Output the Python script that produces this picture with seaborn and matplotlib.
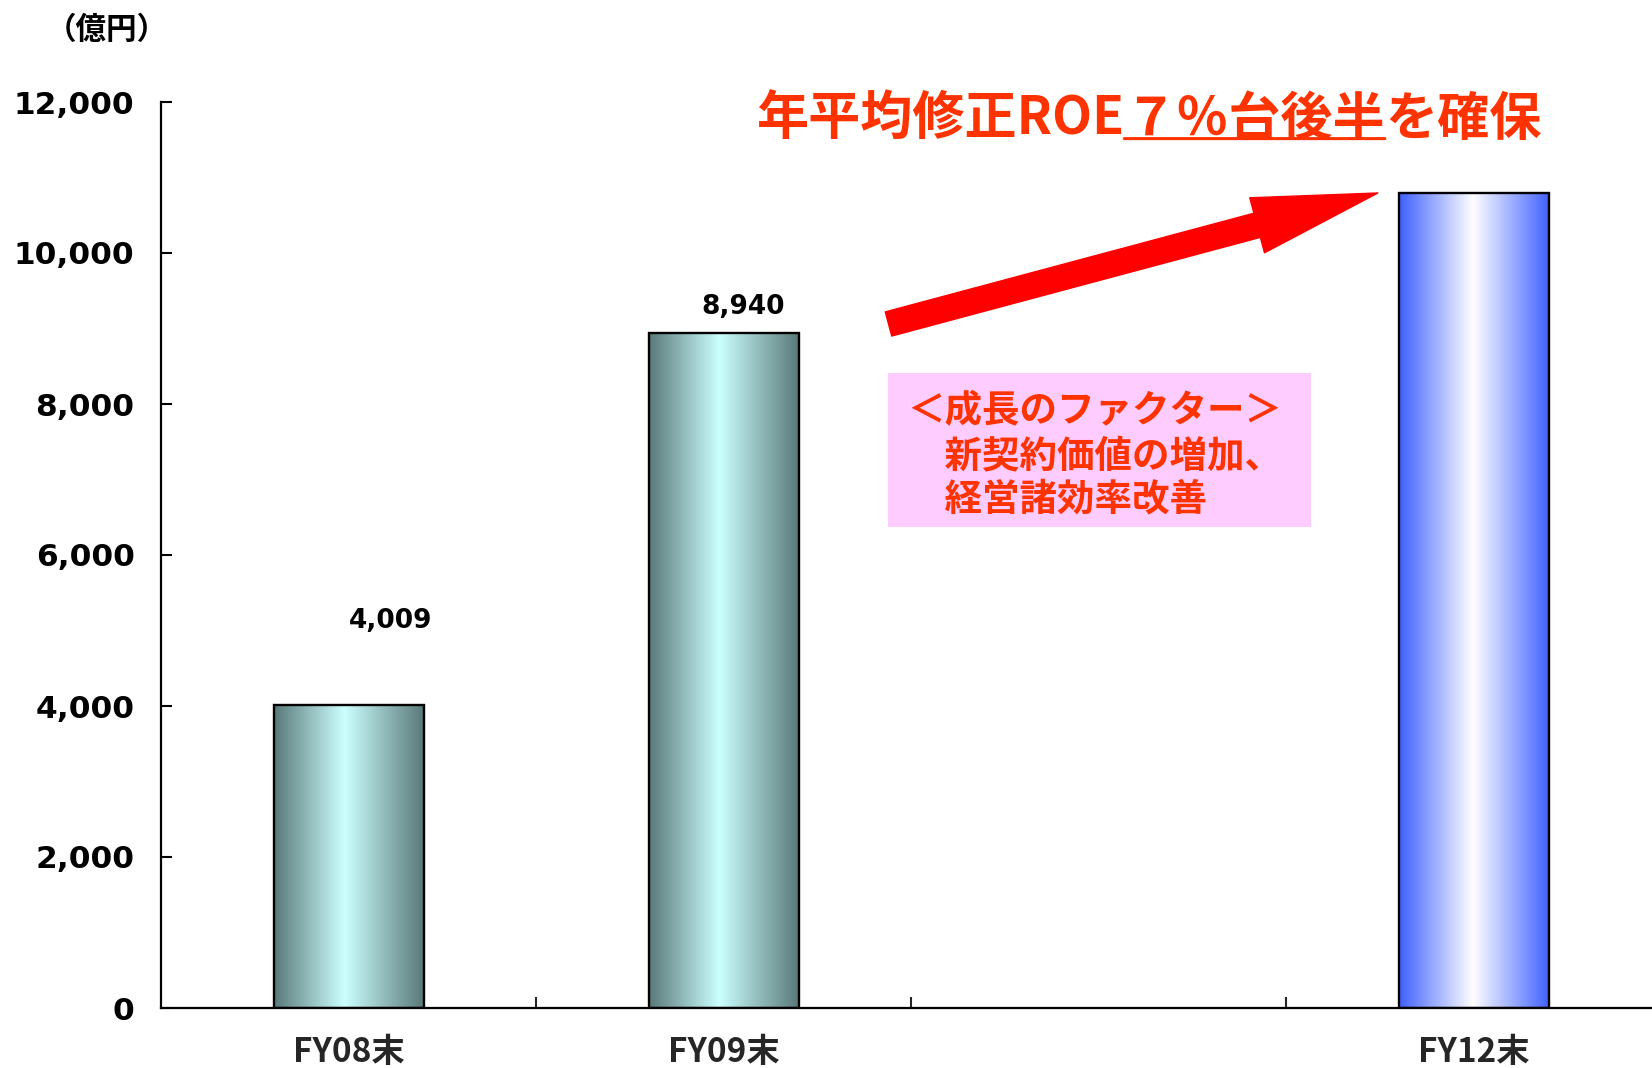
import numpy as np
import pandas as pd
import matplotlib
matplotlib.use("Agg")
import matplotlib.pyplot as plt
import seaborn as sns
from matplotlib.colors import LinearSegmentedColormap
from matplotlib.patches import Rectangle, FancyArrowPatch
from matplotlib.ticker import FixedLocator, FuncFormatter

# --- data -------------------------------------------------------------
categories = ["FY08末", "FY09末", "FY12末"]
values = [4009, 8940, 10800]
slot_order = ["FY08末", "FY09末", "　", "FY12末"]   # third slot left empty
value_labels = ["4,009", "8,940"]
y_ticks = [0, 2000, 4000, 6000, 8000, 10000, 12000]
unit_label = "（億円）"
headline_parts = ["年平均修正ROE", "７％台後半", "を確保"]
factor_lines = ["＜成長のファクター＞", "　新契約価値の増加、", "　経営諸効率改善"]

# --- style ------------------------------------------------------------
sns.set_theme(style="white")
plt.rcParams["font.family"] = ["Noto Sans CJK JP", "DejaVu Sans"]
RED = "#ff3300"
W, H = 1652, 1068

fig = plt.figure(figsize=(W / 100, H / 100), dpi=100)
fig.patch.set_facecolor("white")
ax = fig.add_axes([161 / W, 1 - 1008 / H, 1500 / W, 906 / H])

df = pd.DataFrame({"period": categories, "value": values})
palette = {"FY08末": "#9cd0d0", "FY09末": "#9cd0d0", "FY12末": "#aabbff"}
sns.barplot(data=df, x="period", y="value", hue="period", order=slot_order,
            palette=palette, legend=False, width=0.4, ax=ax,
            edgecolor="black", linewidth=1.7, saturation=1)

# cylinder-like horizontal gradients clipped to each bar
teal = LinearSegmentedColormap.from_list(
    "teal", [(0, "#5a7979"), (0.47, "#ccffff"), (1, "#5a7979")])
blue = LinearSegmentedColormap.from_list(
    "blue", [(0, "#3f60ff"), (0.49, "#ffffff"), (1, "#3f60ff")])
grad = np.linspace(0, 1, 256).reshape(1, -1)
for p in list(ax.patches):
    w, h = p.get_width(), p.get_height()
    if not np.isfinite(h) or h == 0 or not np.isfinite(w):
        continue
    x0 = p.get_x()
    slot = int(round(x0 + w / 2))
    cmap = blue if slot == 3 else teal
    im = ax.imshow(grad, cmap=cmap, extent=(x0, x0 + w, 0, h),
                   aspect="auto", interpolation="bicubic", zorder=1.5)
    im.set_clip_path(p)
    p.set_facecolor("none")
    p.set_zorder(2)

ax.set_xlim(-0.5, 3.5)
ax.set_ylim(0, 12000)

# axes, ticks
for side in ("top", "right"):
    ax.spines[side].set_visible(False)
for side in ("left", "bottom"):
    ax.spines[side].set_color("black")
    ax.spines[side].set_linewidth(1.6)
ax.set_xlabel("")
ax.set_ylabel("")

ax.yaxis.set_major_locator(FixedLocator(y_ticks))
ax.yaxis.set_major_formatter(FuncFormatter(lambda v, _: f"{int(v):,}"))
ax.tick_params(axis="y", direction="in", length=8, width=1.5, pad=19,
               left=True, colors="black")
for lab in ax.get_yticklabels():
    lab.set_fontfamily(["DejaVu Sans"])
    lab.set_fontweight("bold")
    lab.set_fontsize(22.5)

ax.set_xticks(range(len(slot_order)))
ax.set_xticklabels(slot_order, fontsize=24, fontweight="bold")
ax.xaxis.set_minor_locator(FixedLocator([0.5, 1.5, 2.5]))
ax.tick_params(axis="x", which="major", length=0, pad=20, bottom=True)
ax.tick_params(axis="x", which="minor", direction="in", length=8, width=1.5,
               bottom=True)

# value labels above the first two bars
label_offsets = [(30, 61), (14, 19)]
for i, (txt, off) in enumerate(zip(value_labels, label_offsets)):
    ax.annotate(txt, xy=(i, values[i]), xytext=off, textcoords="offset points",
                ha="center", va="center", fontsize=19, fontweight="bold",
                family=["DejaVu Sans"], color="black")

# growth arrow
arrow = FancyArrowPatch((1.44, 9060), (2.745, 10795),
                        arrowstyle="simple,head_length=90,head_width=41,tail_width=18",
                        mutation_scale=1, color="#ff0000", shrinkA=0, shrinkB=0,
                        zorder=3)
ax.add_patch(arrow)

# unit label
fig.text(46 / W, 1 - 30 / H, unit_label, ha="left", va="center",
         fontsize=22, fontweight="bold", color="black")

# headline with the middle part underlined
t1 = fig.text(756 / W, 1 - 119 / H, headline_parts[0], ha="left", va="center",
              fontsize=37.5, fontweight="bold", color=RED)
t2 = ax.annotate(headline_parts[1], xy=(1, 0), xycoords=t1, ha="left",
                 va="bottom", fontsize=37.5, fontweight="bold", color=RED,
                 annotation_clip=False)
t3 = ax.annotate(headline_parts[2], xy=(1, 0), xycoords=t2, ha="left",
                 va="bottom", fontsize=37.5, fontweight="bold", color=RED,
                 annotation_clip=False)
ax.annotate("", xy=(0, 0.13), xycoords=t2, xytext=(1, 0.13), textcoords=t2,
            arrowprops=dict(arrowstyle="-", color=RED, lw=2.2,
                            shrinkA=0, shrinkB=0),
            annotation_clip=False)

# growth factor box
box = Rectangle((888 / W, 1 - 527 / H), 423 / W, 154 / H,
                transform=fig.transFigure, facecolor="#ffccff",
                edgecolor="none", zorder=1)
fig.add_artist(box)
for line, yp in zip(factor_lines, [410, 456, 499]):
    fig.text(907 / W, 1 - yp / H, line, ha="left", va="center",
             fontsize=27, fontweight="bold", color=RED, zorder=2)

fig.savefig("out.png", dpi=100)
